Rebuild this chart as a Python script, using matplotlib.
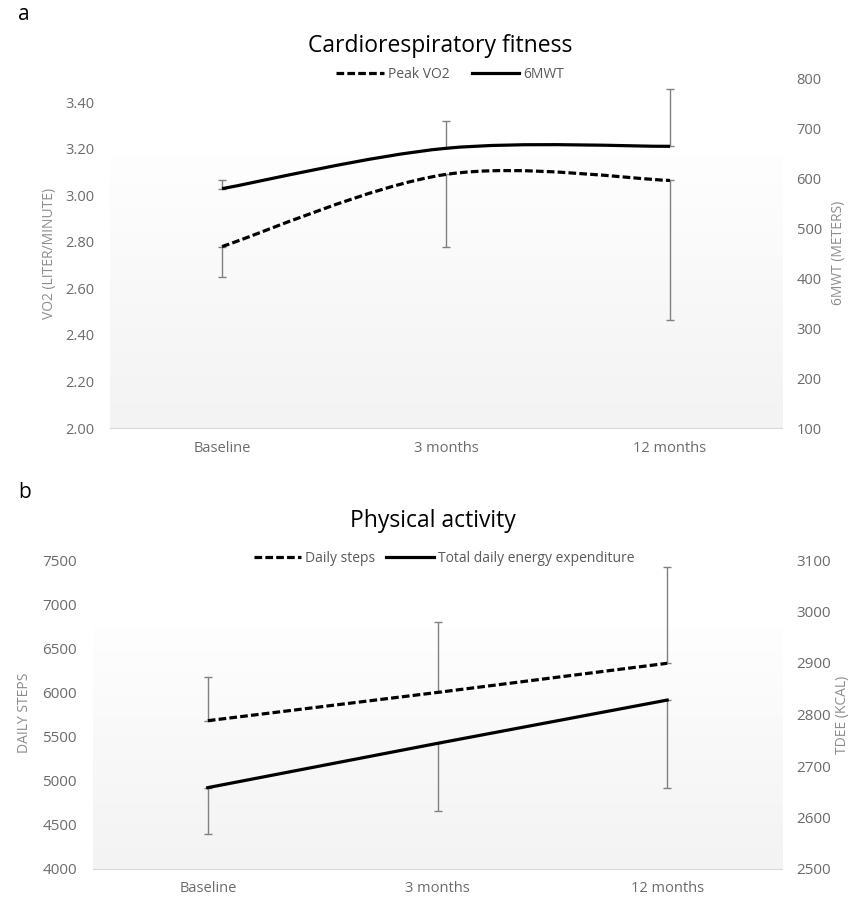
import numpy as np
import matplotlib
matplotlib.use('Agg')
import matplotlib.pyplot as plt
from matplotlib.path import Path
from matplotlib.patches import PathPatch
from matplotlib.lines import Line2D
from matplotlib.colors import LinearSegmentedColormap

# data
timepoints = ['Baseline', '3 months', '12 months']

vo2 = [2.78, 3.09, 3.064]
vo2_err_low = [0.13, 0.31, 0.60]
mwt = [580, 661, 665]
mwt_err_up = [18, 54, 114]

steps = [5680, 6000, 6330]
steps_err_up = [490, 800, 1090]
tdee = [2658, 2744, 2828]
tdee_err_low = [90, 131, 170]

vo2_ticks = [2.00, 2.20, 2.40, 2.60, 2.80, 3.00, 3.20, 3.40]
mwt_ticks = [100, 200, 300, 400, 500, 600, 700, 800]
steps_ticks = [4000, 4500, 5000, 5500, 6000, 6500, 7000, 7500]
tdee_ticks = [2500, 2600, 2700, 2800, 2900, 3000, 3100]

TXT = 'Open Sans'
TICK_C = '#6b6b6b'
LAB_C = '#8c8c8c'
ERR_C = '#808080'
DASH = (0, (2.4, 1.0))
W, H = 855, 899


def smooth_path(xs, ys):
    # Excel-style smoothed line: cubic Bezier through the points
    pts = np.column_stack([xs, ys]).astype(float)
    ext = np.vstack([pts[0], pts, pts[-1]])
    verts = [pts[0]]
    codes = [Path.MOVETO]
    for i in range(len(pts) - 1):
        p0, p1, p2, p3 = ext[i], ext[i + 1], ext[i + 2], ext[i + 3]
        verts += [p1 + (p2 - p0) / 6, p2 - (p3 - p1) / 6, p2]
        codes += [Path.CURVE4] * 3
    return Path(verts, codes)


def add_line(ax, xs, ys, ls, smooth):
    if smooth:
        ax.add_patch(PathPatch(smooth_path(xs, ys), fill=False, edgecolor='black',
                               lw=2.3, linestyle=ls, capstyle='butt', zorder=4))
    else:
        ax.plot(xs, ys, color='black', lw=2.3, linestyle=ls, zorder=4)


def style(ax, ax2, yl, yr, lt, rt, lfmt, tick_fs):
    ax.set_xlim(-0.5, 2.5)
    ax.set_ylim(*yl)
    ax2.set_ylim(*yr)
    ax.set_yticks(lt)
    ax.set_yticklabels([lfmt.format(v) for v in lt])
    ax2.set_yticks(rt)
    ax2.set_yticklabels([str(v) for v in rt])
    ax.set_xticks(range(3))
    ax.set_xticklabels(timepoints)
    for a in (ax, ax2):
        for s in a.spines.values():
            s.set_visible(False)
        a.tick_params(length=0, colors=TICK_C, labelsize=tick_fs)
        for lab in a.get_xticklabels() + a.get_yticklabels():
            lab.set_family(TXT)
    for lab in ax.get_xticklabels():
        lab.set_fontsize(10.5)
    ax.spines['bottom'].set_visible(True)
    ax.spines['bottom'].set_color('#d9d9d9')
    ax.tick_params(axis='y', pad=11.5)
    ax2.tick_params(axis='y', pad=10.5)
    ax.tick_params(axis='x', pad=9)
    # shaded inner area: faint white-to-grey gradient over the lower part
    grad = np.linspace(0.0, 1.0, 256).reshape(-1, 1)
    cmap = LinearSegmentedColormap.from_list('g', ['#fefefe', '#f3f3f3'])
    ax.imshow(grad, extent=[0, 1, 0, 0.775], transform=ax.transAxes, aspect='auto',
              cmap=cmap, vmin=0, vmax=1, zorder=0)
    ax.set_xlim(-0.5, 2.5)
    ax.set_ylim(*yl)


def ylab(xp, yp, s):
    fig.text(xp / W, 1 - yp / H, s, rotation=90, ha='center', va='center',
             color=LAB_C, fontsize=10, family=TXT)


fig = plt.figure(figsize=(8.55, 8.99), dpi=100)
x = np.arange(3)
h = [Line2D([], [], color='black', lw=2.3, linestyle=DASH),
     Line2D([], [], color='black', lw=2.3)]

# panel a
ax = fig.add_axes([110 / W, 1 - 428 / H, 672 / W, 349 / H])
ax2 = ax.twinx()
ax.errorbar(x, vo2, yerr=[vo2_err_low, [0, 0, 0]], fmt='none', ecolor=ERR_C,
            elinewidth=1, capsize=3, capthick=1, zorder=3)
ax2.errorbar(x, mwt, yerr=[[0, 0, 0], mwt_err_up], fmt='none', ecolor=ERR_C,
             elinewidth=1, capsize=3, capthick=1, zorder=3)
add_line(ax, x, vo2, DASH, True)
add_line(ax2, x, mwt, '-', True)
style(ax, ax2, (2.0, 3.5), (100, 800), vo2_ticks, mwt_ticks, '{:.2f}', 10.5)
ylab(49, 253, 'VO2 (LITER/MINUTE)')
ylab(838, 253, '6MWT (METERS)')

fig.text(440 / W, 1 - 46 / H, 'Cardiorespiratory fitness', ha='center', va='center',
         fontsize=16.5, family=TXT, color='black')
fig.text(18 / W, 1 - 15 / H, 'a', ha='left', va='center', fontsize=15, family=TXT)
leg = fig.legend(h, ['Peak VO2', '6MWT'], loc='center', bbox_to_anchor=(450 / W, 1 - 74 / H),
                 ncol=2, frameon=False, handlelength=3.4, handletextpad=0.3, columnspacing=1.6,
                 prop={'family': TXT, 'size': 10})
for t in leg.get_texts():
    t.set_color('#595959')

# panel b
bx = fig.add_axes([93 / W, 1 - 869 / H, 689 / W, 309 / H])
bx2 = bx.twinx()
bx.errorbar(x, steps, yerr=[[0, 0, 0], steps_err_up], fmt='none', ecolor=ERR_C,
            elinewidth=1, capsize=3, capthick=1, zorder=3)
bx2.errorbar(x, tdee, yerr=[tdee_err_low, [0, 0, 0]], fmt='none', ecolor=ERR_C,
             elinewidth=1, capsize=3, capthick=1, zorder=3)
add_line(bx, x, steps, DASH, False)
add_line(bx2, x, tdee, '-', False)
style(bx, bx2, (4000, 7500), (2500, 3100), steps_ticks, tdee_ticks, '{:d}', 11)
ylab(25, 713, 'DAILY STEPS')
ylab(842, 715, 'TDEE (KCAL)')

fig.text(433 / W, 1 - 521 / H, 'Physical activity', ha='center', va='center',
         fontsize=16.5, family=TXT, color='black')
fig.text(18 / W, 1 - 493 / H, 'b', ha='left', va='center', fontsize=15, family=TXT)
leg = fig.legend(h, ['Daily steps', 'Total daily energy expenditure'], loc='center',
                 bbox_to_anchor=(444 / W, 1 - 558 / H), ncol=2, frameon=False,
                 handlelength=3.4, handletextpad=0.3, columnspacing=0.8,
                 prop={'family': TXT, 'size': 10})
for t in leg.get_texts():
    t.set_color('#595959')

fig.savefig('out.png', dpi=100)
